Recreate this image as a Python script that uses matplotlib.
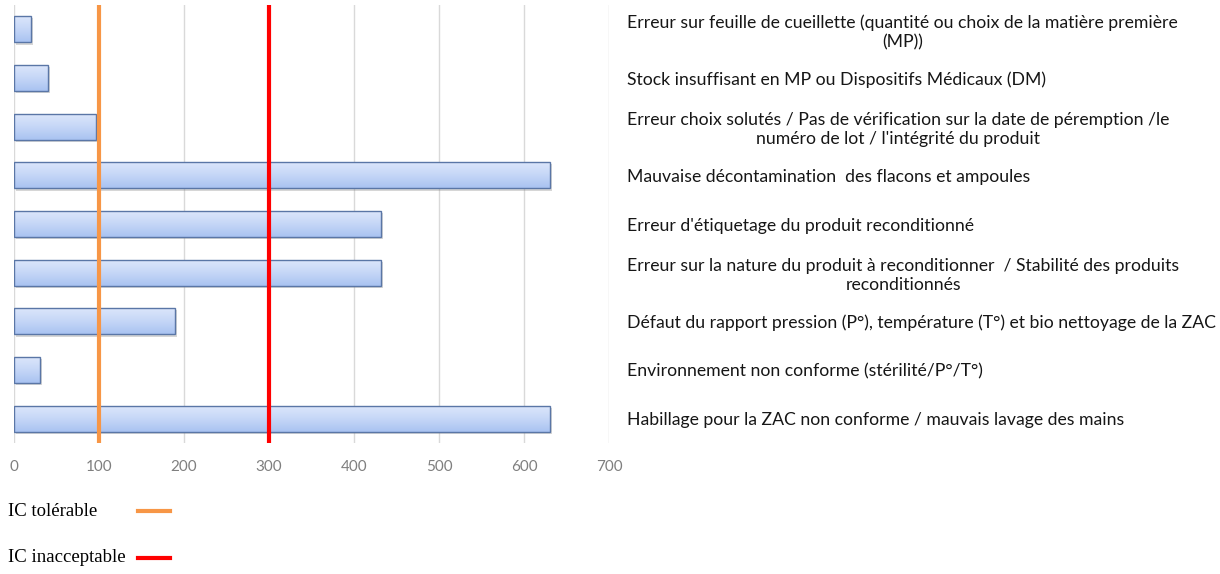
import matplotlib
matplotlib.use('Agg')
from matplotlib import pyplot as plt
from matplotlib import patheffects
from matplotlib.patches import Rectangle
from matplotlib.lines import Line2D
import numpy as np

labels = [
    "Erreur sur feuille de cueillette (quantité ou choix de la matière première\n(MP))",
    "Stock insuffisant en MP ou Dispositifs Médicaux (DM)",
    "Erreur choix solutés / Pas de vérification sur la date de péremption /le\nnuméro de lot / l'intégrité du produit",
    "Mauvaise décontamination  des flacons et ampoules",
    "Erreur d'étiquetage du produit reconditionné",
    "Erreur sur la nature du produit à reconditionner  / Stabilité des produits\nreconditionnés",
    "Défaut du rapport pression (P°), température (T°) et bio nettoyage de la ZAC",
    "Environnement non conforme (stérilité/P°/T°)",
    "Habillage pour la ZAC non conforme / mauvais lavage des mains",
]
values = [20, 40, 96, 630, 432, 432, 189, 30, 630]
ic_tolerable = 100
ic_inacceptable = 300
xticks = [0, 100, 200, 300, 400, 500, 600, 700]

W, H = 1220, 574
fig = plt.figure(figsize=(W / 100, H / 100), dpi=100)
ax = fig.add_axes([14 / W, 1 - 443 / H, (609 - 14) / W, (443 - 5) / H])

pos = np.arange(len(values))
bars = ax.barh(pos, values, height=0.54, color='#bcd0f5', edgecolor='none',
               zorder=2,
               path_effects=[patheffects.SimplePatchShadow(offset=(1.5, -1.5),
                                                           shadow_rgbFace='#8a8a8a',
                                                           alpha=0.35),
                             patheffects.Normal()])

# vertical gradient inside each bar
grad = np.linspace(0, 1, 64).reshape(-1, 1)
cmap = matplotlib.colors.LinearSegmentedColormap.from_list(
    'bar', ['#dde7fb', '#c6d7f7', '#a9c3f1'])
for b in bars:
    x0, y0 = b.get_xy()
    w, h = b.get_width(), b.get_height()
    im = ax.imshow(grad, cmap=cmap, aspect='auto', zorder=2.5,
                   extent=[x0, x0 + w, y0 + h, y0], interpolation='bilinear')
    im.set_clip_path(b)
    ax.add_patch(Rectangle((x0, y0), w, h, fill=False, ec='#5a76a6',
                           lw=1.0, zorder=3))

l_tol = ax.axvline(ic_tolerable, color='#f79646', lw=3, zorder=4)
l_inac = ax.axvline(ic_inacceptable, color='#ff0000', lw=3, zorder=4)

ax.set_xlim(0, 700)
ax.set_ylim(len(values) - 0.5, -0.5)
ax.set_xticks(xticks)
ax.grid(axis='x', color='#d9d9d9', lw=1, zorder=0)
ax.set_axisbelow(True)
for s in ['top', 'left', 'bottom', 'right']:
    ax.spines[s].set_visible(False)

ax.tick_params(axis='x', length=0, pad=12, labelsize=11, labelcolor='#7f7f7f')
ax.yaxis.tick_right()
ax.set_yticks(pos)
ax.set_yticklabels(labels, ha='left', multialignment='center',
                   fontsize=12.7, family='Lato', color='#161616',
                   linespacing=1.25)
ax.tick_params(axis='y', length=0, pad=13)
for t in ax.get_xticklabels():
    t.set_family('Lato')

# legend below the chart: text, then a short line sample
legend_rows = [('IC tolérable', l_tol, 511), ('IC inacceptable', l_inac, 558)]
for name, line, ypix in legend_rows:
    yf = 1 - ypix / H
    fig.text(8 / W, yf, name, family='Liberation Serif', fontsize=13.5,
             ha='left', va='center')
    fig.add_artist(Line2D([138 / W, 170 / W], [yf, yf], color=line.get_color(),
                          lw=3, transform=fig.transFigure))

fig.savefig('out.png', dpi=100)
